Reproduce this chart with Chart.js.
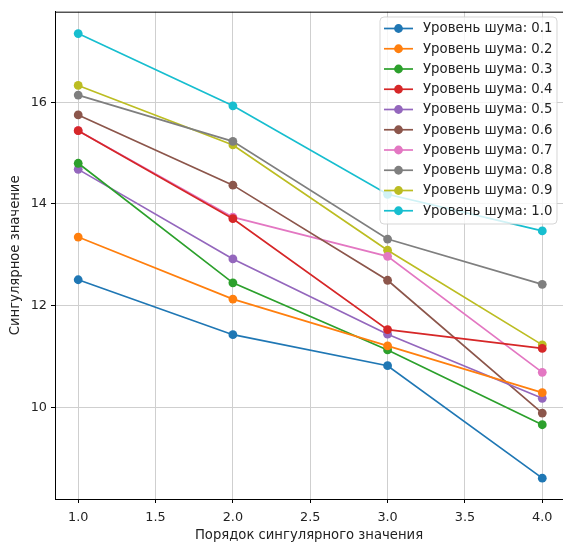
<!DOCTYPE html>
<html>
<head>
<meta charset="utf-8">
<script src="https://cdn.jsdelivr.net/npm/chart.js@4/dist/chart.umd.min.js"></script>
<style>
  html, body { margin: 0; padding: 0; background: #fff; }
  #wrap { width: 563px; height: 543px; }
</style>
</head>
<body>
<div id="wrap"><canvas id="svdChart" width="563" height="543"></canvas></div>
<script>
var orders = [1, 2, 3, 4];
var noiseLevels = ['0.1', '0.2', '0.3', '0.4', '0.5', '0.6', '0.7', '0.8', '0.9', '1.0'];
var noise01 = [12.51, 11.43, 10.82, 8.61];
var noise02 = [13.35, 12.13, 11.21, 10.29];
var noise03 = [14.80, 12.45, 11.13, 9.66];
var noise04 = [15.44, 13.71, 11.53, 11.16];
var noise05 = [14.68, 12.92, 11.44, 10.18];
var noise06 = [15.75, 14.37, 12.50, 9.89];
var noise07 = [15.44, 13.74, 12.97, 10.69];
var noise08 = [16.14, 15.23, 13.31, 12.42];
var noise09 = [16.33, 15.16, 13.09, 11.23];
var noise10 = [17.35, 15.93, 14.19, 13.47];
var xTicks = [1.0, 1.5, 2.0, 2.5, 3.0, 3.5, 4.0];
var yTicks = [10, 12, 14, 16];

var seriesValues = [noise01, noise02, noise03, noise04, noise05, noise06, noise07, noise08, noise09, noise10];
var colors = ['#1f77b4', '#ff7f0e', '#2ca02c', '#d62728', '#9467bd',
              '#8c564b', '#e377c2', '#7f7f7f', '#bcbd22', '#17becf'];
var FONT = 'DejaVu Sans';

var datasets = seriesValues.map(function (vals, i) {
    return {
        label: 'Уровень шума: ' + noiseLevels[i],
        data: vals.map(function (v, j) { return { x: orders[j], y: v }; }),
        borderColor: colors[i],
        backgroundColor: colors[i],
        borderWidth: 1.7,
        pointRadius: 4.4,
        pointHoverRadius: 4.4,
        pointBorderWidth: 0,
        tension: 0
    };
});

// matplotlib-like legend inside the axes + top spine
var mplLegend = {
    id: 'mplLegend',
    afterDatasetsDraw: function (chart) {
        var ctx = chart.ctx;
        var area = chart.chartArea;
        ctx.save();
        ctx.strokeStyle = '#000';
        ctx.lineWidth = 1;
        ctx.beginPath();
        ctx.moveTo(area.left, area.top + 0.5);
        ctx.lineTo(area.right, area.top + 0.5);
        ctx.stroke();

        var bx = 380, by = 17, bw = 177, bh = 207, r = 4;
        ctx.beginPath();
        ctx.moveTo(bx + r, by);
        ctx.arcTo(bx + bw, by, bx + bw, by + bh, r);
        ctx.arcTo(bx + bw, by + bh, bx, by + bh, r);
        ctx.arcTo(bx, by + bh, bx, by, r);
        ctx.arcTo(bx, by, bx + bw, by, r);
        ctx.closePath();
        ctx.fillStyle = 'rgba(255,255,255,0.8)';
        ctx.fill();
        ctx.strokeStyle = 'rgba(204,204,204,0.8)';
        ctx.stroke();

        ctx.font = '13.3px "' + FONT + '"';
        ctx.textBaseline = 'middle';
        ctx.textAlign = 'left';
        chart.data.datasets.forEach(function (ds, i) {
            var y = 28.5 + i * 20.25;
            ctx.strokeStyle = ds.borderColor;
            ctx.lineWidth = 1.7;
            ctx.beginPath();
            ctx.moveTo(384, y);
            ctx.lineTo(413, y);
            ctx.stroke();
            ctx.fillStyle = ds.borderColor;
            ctx.beginPath();
            ctx.arc(398.5, y, 4.4, 0, Math.PI * 2);
            ctx.fill();
            ctx.fillStyle = '#222';
            ctx.fillText(ds.label, 423, y + 0.5);
        });
        ctx.restore();
    }
};

var ctx = document.getElementById('svdChart').getContext('2d');
var svdChart = new Chart(ctx, {
    type: 'line',
    data: { datasets: datasets },
    plugins: [mplLegend],
    options: {
        responsive: false,
        animation: false,
        layout: { autoPadding: false, padding: { top: 10, right: 0, left: 0, bottom: 0 } },
        plugins: {
            legend: { display: false },
            tooltip: { enabled: false }
        },
        scales: {
            x: {
                type: 'linear',
                min: 0.85,
                max: 4.134,
                afterBuildTicks: function (axis) {
                    axis.ticks = xTicks.map(function (v) { return { value: v }; });
                },
                afterFit: function (axis) { axis.height = 44; },
                ticks: {
                    callback: function (v) { return Number(v).toFixed(1); },
                    color: '#222',
                    font: { family: FONT, size: 12.8 },
                    padding: 7,
                    maxRotation: 0
                },
                grid: { color: '#cfcfcf', lineWidth: 1, tickLength: 4, tickColor: '#000' },
                border: { display: true, color: '#000', width: 1 },
                title: {
                    display: true,
                    text: 'Порядок сингулярного значения',
                    color: '#222',
                    font: { family: FONT, size: 13.2 },
                    padding: { top: 2, bottom: 0 }
                }
            },
            y: {
                min: 8.2,
                max: 17.78,
                afterBuildTicks: function (axis) {
                    axis.ticks = yTicks.map(function (v) { return { value: v }; });
                },
                afterFit: function (axis) { axis.width = 55; },
                ticks: {
                    color: '#222',
                    font: { family: FONT, size: 12.8 },
                    padding: 4
                },
                grid: { color: '#cfcfcf', lineWidth: 1, tickLength: 4, tickColor: '#000' },
                border: { display: true, color: '#000', width: 1 },
                title: {
                    display: true,
                    text: 'Сингулярное значение',
                    color: '#222',
                    font: { family: FONT, size: 13.2 },
                    padding: { top: 7.5, bottom: 0 }
                }
            }
        }
    }
});
</script>
</body>
</html>
